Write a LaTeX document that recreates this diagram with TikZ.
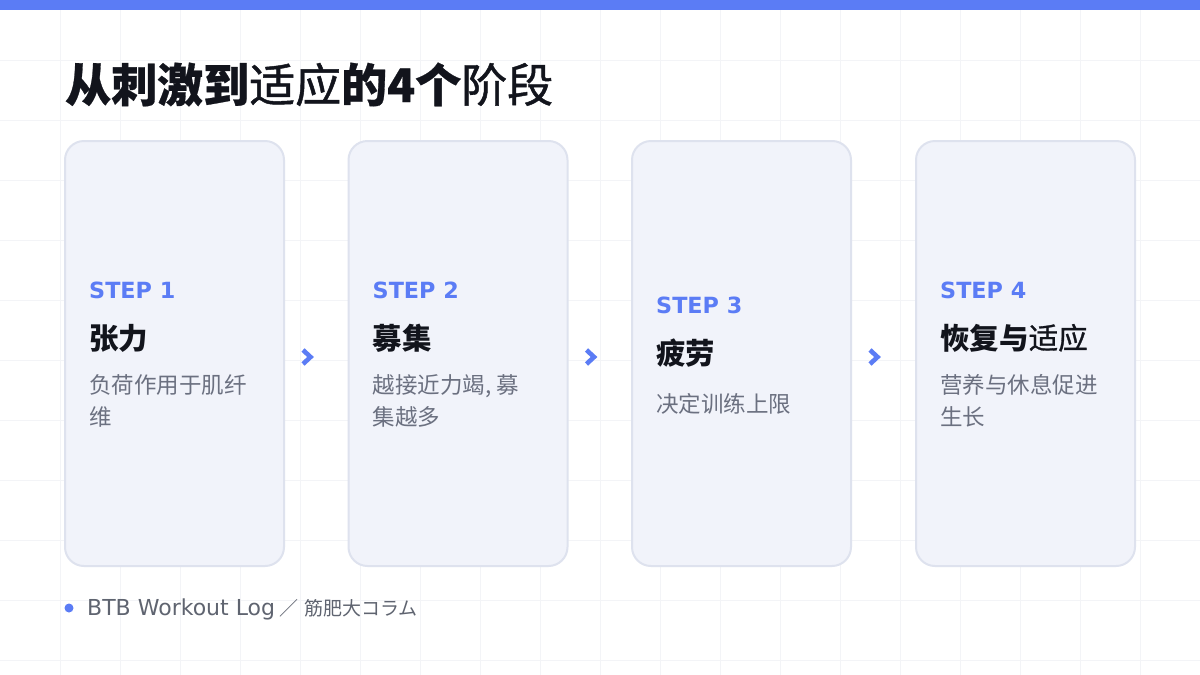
\documentclass[tikz,border=0pt]{standalone}
\usepackage{fontspec}
\setmainfont{Noto Sans CJK SC}
\newfontfamily\latinfont{DejaVu Sans}
\usetikzlibrary{calc}
\usetikzlibrary{positioning}

\definecolor{wlblue}{HTML}{5B7CF5}
\definecolor{wlink}{HTML}{12141C}
\definecolor{wlgray}{HTML}{6B7080}
\definecolor{wlfootgray}{HTML}{5F6470}
\definecolor{wlcardfill}{HTML}{F1F3FA}
\definecolor{wlcardline}{HTML}{DEE2EE}
\definecolor{wlgrid}{HTML}{F3F4F7}

\newcommand{\WLCardWidth}{219pt}
\newcommand{\WLCardHeight}{425pt}
\newcommand{\WLInset}{25}
\newcommand{\WLLight}[1]{{\mdseries\addfontfeatures{FakeBold=1}#1}}

\tikzset{
  card/.style={draw=wlcardline, line width=2pt, fill=wlcardfill, rounded corners=19pt,
    minimum width=\WLCardWidth, minimum height=\WLCardHeight, inner sep=0pt},
  steplabel/.style={anchor=base west, inner sep=0pt, text=wlblue,
    font=\latinfont\bfseries\fontsize{22.3}{22.3}\selectfont},
  steptitle/.style={anchor=base west, inner sep=0pt, text=wlink,
    font=\bfseries\fontsize{29.5}{29.5}\selectfont},
  stepdesc/.style={anchor=north west, inner sep=0pt, text=wlgray, align=left,
    font=\fontsize{22.5}{32}\selectfont, execute at begin node=\strut},
  chevron/.style={draw=wlblue, line width=4.6pt},
  gridline/.style={draw=wlgrid, line width=1pt},
}

% #1 name, #2 center x, #3 baseline of STEP, #4 number, #5 title, #6 description
\newcommand{\WLCard}[6]{
  \node[card] (#1) at (#2,353.5) {};
  \node[steplabel] (#1step) at ($(#1.west |- 0,#3)+(\WLInset,0)$) {STEP #4};
  \node[steptitle] (#1title) at ($(#1step.base west)+(0,51)$) {#5};
  \node[stepdesc] (#1desc) at ($(#1title.base west)+(0,48-22.4)$) {#6};
}
\newcommand{\WLChevron}[2]{
  \draw[chevron] ($(#1.east)+(18,-3.5)$) -- ++(7.5,7) -- ++(-7.5,7);
}

\begin{document}
\begin{tikzpicture}[x=1pt,y=-1pt]
\useasboundingbox (0,0) rectangle (1200,675);
\fill[white] (0,0) rectangle (1200,675);
\foreach \gx in {60,120,...,1140}
  \draw[gridline] (\gx,0) -- (\gx,675);
\foreach \gy in {60,120,...,660}
  \draw[gridline] (0,\gy) -- (1200,\gy);
\fill[wlblue] (0,0) rectangle (1200,10);

\node[anchor=base west, inner sep=0pt, text=wlink,
  font=\bfseries\addfontfeatures{FakeBold=0.6}\fontsize{46}{46}\selectfont]
  (title) at (65,102) {从刺激到\WLLight{适应}的4个\WLLight{阶段}};

\WLCard{c1}{174.5}{298}{1}{张力}{负荷作用于肌纤\\维}
\WLCard{c2}{458}{298}{2}{募集}{越接近力竭, 募\\集越多}
\WLCard{c3}{741.5}{313.5}{3}{疲劳}{决定训练上限}
\WLCard{c4}{1025.5}{298}{4}{恢复与\WLLight{适应}}{营养与休息促进\\生长}

\WLChevron{c1}{c2}
\WLChevron{c2}{c3}
\WLChevron{c3}{c4}

\node[circle, fill=wlblue, inner sep=0pt, minimum size=9pt] (dot) at (69,608) {};
\node[anchor=base west, inner sep=0pt, text=wlfootgray, font=\fontsize{19}{19}\selectfont]
  (foot) at (87,615) {{\latinfont\fontsize{22}{22}\selectfont BTB Workout Log}\hspace{4pt}／\hspace{6pt}筋肥大コラム};
\end{tikzpicture}
\end{document}
